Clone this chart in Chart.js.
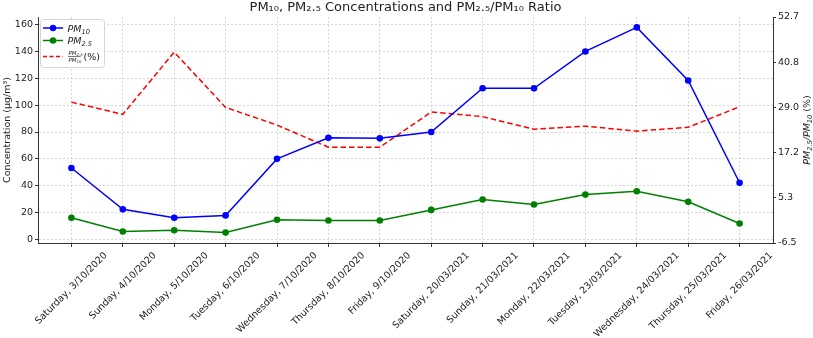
<!DOCTYPE html>
<html>
<head>
<meta charset="utf-8">
<script src="https://cdn.jsdelivr.net/npm/chart.js@4"></script>
<style>
  html, body { margin: 0; padding: 0; background: #fff; }
  canvas { display: block; }
</style>
</head>
<body>
<canvas id="pmChart" width="813" height="338"></canvas>
<script>
// data
const dateLabels = [
  "Saturday, 3/10/2020", "Sunday, 4/10/2020", "Monday, 5/10/2020", "Tuesday, 6/10/2020",
  "Wednesday, 7/10/2020", "Thursday, 8/10/2020", "Friday, 9/10/2020", "Saturday, 20/03/2021",
  "Sunday, 21/03/2021", "Monday, 22/03/2021", "Tuesday, 23/03/2021", "Wednesday, 24/03/2021",
  "Thursday, 25/03/2021", "Friday, 26/03/2021"
];
const pm10 = [53.2, 22.4, 16.2, 17.9, 60, 75.7, 75.3, 80, 112.6, 112.5, 140, 157.9, 118.4, 42.2];
const pm25 = [16.2, 5.9, 6.8, 5.1, 14.7, 14.1, 14.1, 22, 29.7, 26, 33.4, 35.9, 28, 11.9];
const ratio = [30.4, 27.2, 43.5, 29.0, 24.4, 18.6, 18.6, 27.8, 26.6, 23.3, 24.1, 22.8, 23.8, 29.2];
const leftTicks = [0, 20, 40, 60, 80, 100, 120, 140, 160];
const rightTicks = [-6.5, 5.3, 17.2, 29.0, 40.8, 52.7];

const FONT = '"DejaVu Sans", sans-serif';
const TXT = '#222';
const AXIS = '#333';
const GRID = 'rgba(170,170,170,0.6)';

// draw runs of text (normal / italic / subscript) starting at x, baseline y
function drawRuns(ctx, runs, x, y, size, measureOnly) {
  let cx = x;
  runs.forEach(r => {
    const s = r.sub ? size * 0.7 : size;
    ctx.font = (r.italic ? 'italic ' : '') + s + 'px ' + FONT;
    const w = ctx.measureText(r.t).width;
    if (!measureOnly) ctx.fillText(r.t, cx, y + (r.sub ? size * 0.22 : 0));
    cx += w;
  });
  return cx - x;
}

const textPlugin = {
  id: 'texts',
  afterDraw(chart) {
    const ctx = chart.ctx;
    const xs = chart.scales.x;
    const area = chart.chartArea;
    ctx.save();
    ctx.fillStyle = TXT;

    // x labels, rotated 45 and centred on the tick
    ctx.font = '9.5px ' + FONT;
    ctx.textAlign = 'center';
    ctx.textBaseline = 'middle';
    dateLabels.forEach((lab, i) => {
      const px = xs.getPixelForValue(i);
      const w = ctx.measureText(lab).width;
      const half = (w + 11) * Math.SQRT1_2 / 2;
      ctx.save();
      ctx.translate(px, area.bottom + 7 + half);
      ctx.rotate(-Math.PI / 4);
      ctx.fillText(lab, 0, 0);
      ctx.restore();
    });

    // title
    ctx.font = '13px ' + FONT;
    ctx.fillText('PM₁₀, PM₂.₅ Concentrations and PM₂.₅/PM₁₀ Ratio', (area.left + area.right) / 2, 8);

    // left axis title
    ctx.save();
    ctx.translate(8, (area.top + area.bottom) / 2);
    ctx.rotate(-Math.PI / 2);
    ctx.font = '9.5px ' + FONT;
    ctx.fillText('Concentration (µg/m³)', 0, 0);
    ctx.restore();

    // right axis title
    const rRuns = [
      { t: 'PM', italic: true }, { t: '2.5', italic: true, sub: true },
      { t: '/', italic: true }, { t: 'PM', italic: true }, { t: '10', italic: true, sub: true },
      { t: ' (%)' }
    ];
    ctx.save();
    ctx.translate(806, (area.top + area.bottom) / 2);
    ctx.rotate(-Math.PI / 2);
    ctx.textAlign = 'left';
    ctx.textBaseline = 'alphabetic';
    const rw = drawRuns(ctx, rRuns, 0, 0, 9.5, true);
    drawRuns(ctx, rRuns, -rw / 2, 3.5, 9.5);
    ctx.restore();

    // legend
    const lx = 40.5, ly = 19.5;
    ctx.fillStyle = 'rgba(255,255,255,0.85)';
    ctx.strokeStyle = '#d5d5d5';
    ctx.lineWidth = 1;
    ctx.beginPath();
    ctx.roundRect(lx, ly, 64, 48, 3);
    ctx.fill();
    ctx.stroke();

    const rows = [
      { y: 28, color: '#0000ff', sub: '10' },
      { y: 40.5, color: '#008000', sub: '2.5' }
    ];
    ctx.textAlign = 'left';
    ctx.textBaseline = 'alphabetic';
    rows.forEach(r => {
      ctx.strokeStyle = r.color;
      ctx.fillStyle = r.color;
      ctx.lineWidth = 1.5;
      ctx.beginPath();
      ctx.moveTo(43, r.y);
      ctx.lineTo(63, r.y);
      ctx.stroke();
      ctx.beginPath();
      ctx.arc(53, r.y, 3.2, 0, Math.PI * 2);
      ctx.fill();
      ctx.fillStyle = TXT;
      drawRuns(ctx, [{ t: 'PM', italic: true }, { t: r.sub, italic: true, sub: true }], 67.5, r.y + 3.5, 9.5);
    });

    // ratio row: dashed line + small fraction
    const ry = 56.5;
    ctx.strokeStyle = '#ff0000';
    ctx.lineWidth = 1.5;
    ctx.setLineDash([4, 2.5]);
    ctx.beginPath();
    ctx.moveTo(43, ry);
    ctx.lineTo(63, ry);
    ctx.stroke();
    ctx.setLineDash([]);
    ctx.fillStyle = TXT;
    drawRuns(ctx, [{ t: 'PM', italic: true }, { t: '2.5', italic: true, sub: true }], 68.5, ry - 2, 5.5);
    ctx.strokeStyle = TXT;
    ctx.lineWidth = 0.6;
    ctx.beginPath();
    ctx.moveTo(68, ry);
    ctx.lineTo(80.5, ry);
    ctx.stroke();
    drawRuns(ctx, [{ t: 'PM', italic: true }, { t: '10', italic: true, sub: true }], 68.5, ry + 5.5, 5.5);
    ctx.font = '9.5px ' + FONT;
    ctx.fillText('(%)', 83.5, ry + 3.5);

    ctx.restore();
  }
};

const toPoints = arr => arr.map((v, i) => ({ x: i, y: v }));

new Chart(document.getElementById('pmChart'), {
  type: 'line',
  data: {
    datasets: [
      {
        label: 'PM10',
        data: toPoints(pm10),
        yAxisID: 'y',
        borderColor: '#0000ff',
        backgroundColor: '#0000ff',
        borderWidth: 1.5,
        pointRadius: 3.3,
        pointBorderWidth: 0
      },
      {
        label: 'PM2.5',
        data: toPoints(pm25),
        yAxisID: 'y',
        borderColor: '#008000',
        backgroundColor: '#008000',
        borderWidth: 1.5,
        pointRadius: 3.3,
        pointBorderWidth: 0
      },
      {
        label: 'PM2.5/PM10 (%)',
        data: toPoints(ratio),
        yAxisID: 'y1',
        borderColor: '#ff0000',
        backgroundColor: '#ff0000',
        borderWidth: 1.5,
        borderDash: [5.5, 3],
        pointRadius: 0
      }
    ]
  },
  options: {
    responsive: false,
    animation: false,
    devicePixelRatio: 1,
    layout: { padding: { top: 17, left: 0, right: 0, bottom: 0 } },
    plugins: {
      legend: { display: false },
      tooltip: { enabled: false }
    },
    scales: {
      x: {
        type: 'linear',
        min: -0.65,
        max: 13.65,
        afterBuildTicks: s => { s.ticks = dateLabels.map((_, i) => ({ value: i })); },
        afterFit: s => { s.height = 95; },
        ticks: { display: false },
        grid: { color: GRID, tickColor: AXIS, tickLength: 4, lineWidth: 0.8, tickWidth: 1 },
        border: { color: AXIS, width: 1, dash: [2, 2] }
      },
      y: {
        position: 'left',
        min: -2.65,
        max: 165.65,
        afterBuildTicks: s => { s.ticks = leftTicks.map(v => ({ value: v })); },
        afterFit: s => { s.width = 38; },
        ticks: { color: TXT, font: { family: FONT, size: 9.5 }, padding: 2 },
        grid: { color: GRID, tickColor: AXIS, tickLength: 3, lineWidth: 0.8, tickWidth: 1 },
        border: { color: AXIS, width: 1, dash: [2, 2] }
      },
      y1: {
        position: 'right',
        min: -6.5,
        max: 52.7,
        afterBuildTicks: s => { s.ticks = rightTicks.map(v => ({ value: v })); },
        afterFit: s => { s.width = 40; },
        ticks: {
          color: TXT,
          font: { family: FONT, size: 9.5 },
          padding: 2,
          callback: v => v.toFixed(1)
        },
        grid: { drawOnChartArea: false, tickColor: AXIS, tickLength: 3, tickWidth: 1 },
        border: { color: AXIS, width: 1 }
      }
    }
  },
  plugins: [textPlugin]
});
</script>
</body>
</html>
